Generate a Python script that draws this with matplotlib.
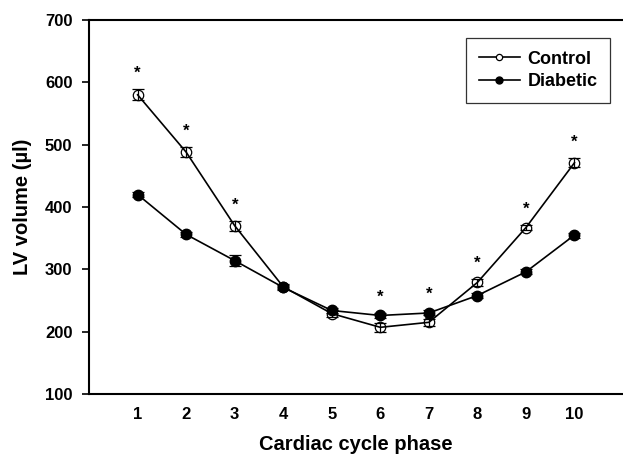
import numpy as np
import matplotlib
matplotlib.use("Agg")
from matplotlib import pyplot as plt
from matplotlib.lines import Line2D

plt.rcParams['font.family'] = ['Liberation Sans', 'DejaVu Sans']
plt.rcParams['font.weight'] = 'bold'

phase = [1, 2, 3, 4, 5, 6, 7, 8, 9, 10]
control = [580, 488, 370, 272, 229, 207, 215, 279, 367, 471]
control_err = [9, 8, 8, 4, 6, 7, 6, 5, 4, 7]
diabetic = [420, 356, 314, 271, 234, 226, 230, 258, 296, 355]
diabetic_err = [4, 4, 9, 4, 4, 4, 4, 4, 4, 4]
signif = [1, 2, 3, 6, 7, 8, 9, 10]

fig = plt.figure(figsize=(6.23, 4.61), dpi=100)
ax = fig.add_axes([0.143, 0.1453, 0.857, 0.8113])

ax.errorbar(phase, diabetic, yerr=diabetic_err, color='black', marker='o',
            markersize=7.5, mfc='black', mec='black', lw=1.2, capsize=4,
            elinewidth=0.9, capthick=0.9, zorder=3)
ax.errorbar(phase, control, yerr=control_err, color='black', marker='o',
            markersize=7.5, mfc='none', mec='black', mew=0.9, lw=1.2, capsize=4,
            elinewidth=0.9, capthick=0.9, zorder=4)

# asterisks over the higher of the two points
for p in signif:
    i = phase.index(p)
    top = max(control[i] + control_err[i], diabetic[i] + diabetic_err[i])
    ax.annotate('*', (p, top), xytext=(0, 6), textcoords='offset points',
                ha='center', va='bottom', fontsize=12, fontweight='bold')

ax.set_xlim(0, 11)
ax.set_ylim(100, 700)
ax.set_xticks(phase)
ax.set_yticks(np.arange(100, 701, 100))
ax.tick_params(axis='x', length=0, pad=9, labelsize=12)
ax.tick_params(axis='y', direction='out', length=5, width=1.2, pad=7, labelsize=12)
for lab in ax.get_xticklabels() + ax.get_yticklabels():
    lab.set_fontweight('bold')

ax.spines['right'].set_visible(False)
for s in ['left', 'bottom', 'top']:
    ax.spines[s].set_linewidth(1.5)

ax.set_xlabel('Cardiac cycle phase', fontsize=14.5, fontweight='bold', labelpad=10)
ax.set_ylabel('LV volume (µl)', fontsize=14.5, fontweight='bold', labelpad=9)

handles = [Line2D([], [], color='black', lw=1.2, marker='o', markersize=4.5,
                  mfc='white', mec='black', mew=0.9),
           Line2D([], [], color='black', lw=1.2, marker='o', markersize=5,
                  mfc='black', mec='black')]
leg = ax.legend(handles, ['Control', 'Diabetic'], loc='upper right',
                bbox_to_anchor=(0.9757, 0.952), frameon=True, fancybox=False,
                fontsize=13, handlelength=2.3, borderpad=0.7, labelspacing=0.3,
                handletextpad=0.4, borderaxespad=0)
leg.get_frame().set_edgecolor('black')
leg.get_frame().set_linewidth(0.9)
for t in leg.get_texts():
    t.set_fontweight('bold')

fig.savefig('out.png', dpi=100)
